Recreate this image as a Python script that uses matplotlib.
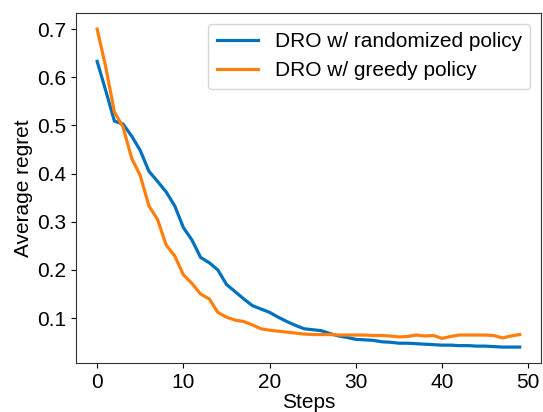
import matplotlib
matplotlib.use('Agg')
import matplotlib.pyplot as plt

plt.rcParams['font.family'] = ['Liberation Sans', 'DejaVu Sans']

steps = list(range(50))

# average regret, randomized policy
regret_randomized = [0.633, 0.572, 0.509, 0.503, 0.478, 0.448, 0.405, 0.384, 0.362, 0.333,
                     0.288, 0.262, 0.226, 0.215, 0.200, 0.170, 0.155, 0.140, 0.126, 0.119,
                     0.112, 0.102, 0.093, 0.085, 0.078, 0.076, 0.074, 0.068, 0.063, 0.060,
                     0.056, 0.055, 0.054, 0.051, 0.050, 0.048, 0.048, 0.047, 0.046, 0.045,
                     0.044, 0.044, 0.043, 0.043, 0.042, 0.042, 0.041, 0.040, 0.040, 0.040]

# average regret, greedy policy
regret_greedy = [0.700, 0.621, 0.528, 0.497, 0.432, 0.396, 0.333, 0.305, 0.252, 0.229,
                 0.190, 0.172, 0.150, 0.140, 0.112, 0.102, 0.096, 0.093, 0.086, 0.078,
                 0.075, 0.073, 0.071, 0.069, 0.067, 0.066, 0.066, 0.066, 0.065, 0.065,
                 0.065, 0.065, 0.064, 0.064, 0.063, 0.061, 0.062, 0.065, 0.063, 0.064,
                 0.058, 0.062, 0.065, 0.065, 0.065, 0.065, 0.064, 0.059, 0.063, 0.066]

fig = plt.figure(figsize=(5.43, 4.12), dpi=100)
ax = fig.add_axes([0.140, 0.119, 0.856, 0.849])

ax.plot(steps, regret_randomized, color='#0072bd', linewidth=2.3, label='DRO w/ randomized policy')
ax.plot(steps, regret_greedy, color='#ff7f0e', linewidth=2.3, label='DRO w/ greedy policy')

ax.set_xlabel('Steps', fontsize=15, labelpad=1)
ax.set_ylabel('Average regret', fontsize=15, labelpad=3)
ax.set_xticks([0, 10, 20, 30, 40, 50])
ax.set_yticks([0.1, 0.2, 0.3, 0.4, 0.5, 0.6, 0.7])
ax.tick_params(axis='both', which='major', labelsize=15)
for s in ax.spines.values():
    s.set_color('#333333')
ax.legend(loc='upper right', fontsize=15)

fig.savefig('out.png', dpi=100)
